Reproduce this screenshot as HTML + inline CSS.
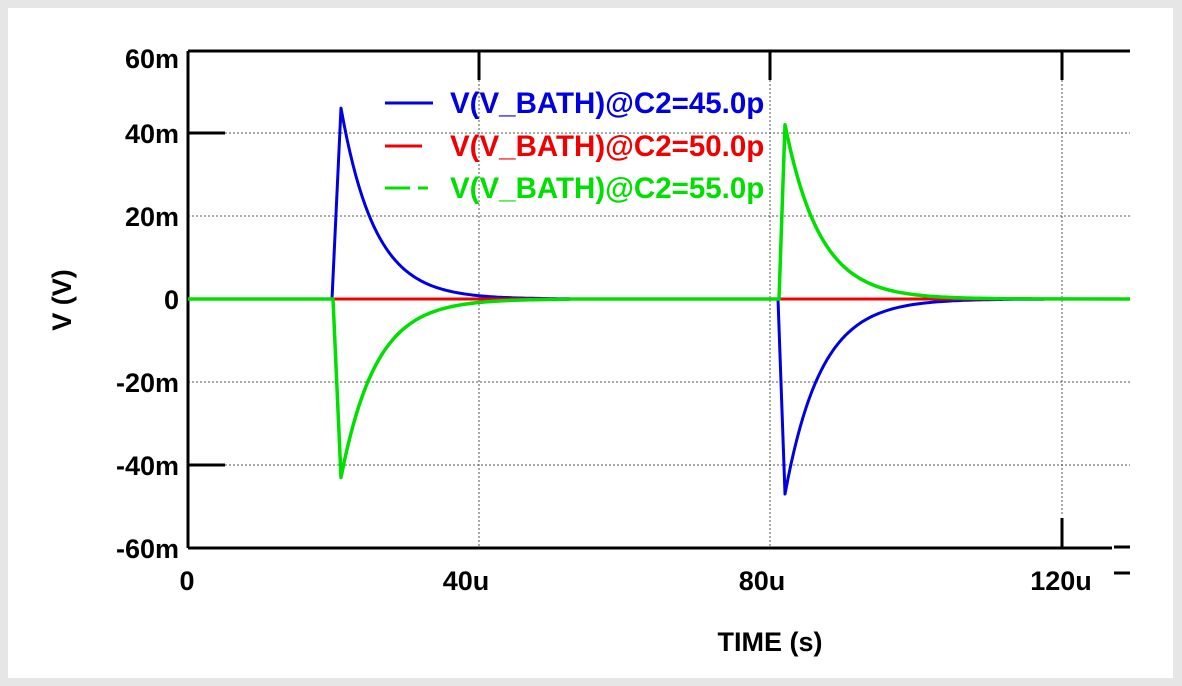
<!DOCTYPE html>
<html><head><meta charset="utf-8"><style>
html,body{margin:0;padding:0;}
body{width:1182px;height:686px;background:#e6e6e6;position:relative;overflow:hidden;}
#w{position:absolute;left:8px;top:8px;width:1165px;height:670px;background:#fff;}
svg{position:absolute;left:0;top:0;}
text{font-family:"Liberation Sans",Arial,sans-serif;font-weight:bold;}
</style></head><body><div id="w"></div>
<svg width="1182" height="686" xmlns="http://www.w3.org/2000/svg">
<g stroke="#555" stroke-width="1" stroke-dasharray="2,2">
<line x1="225" y1="133" x2="1130" y2="133"/>
<line x1="188" y1="216" x2="1130" y2="216"/>
<line x1="188" y1="382" x2="1130" y2="382"/>
<line x1="225" y1="465" x2="1130" y2="465"/>
<line x1="479" y1="80" x2="479" y2="548"/>
<line x1="770" y1="80" x2="770" y2="548"/>
<line x1="1062" y1="80" x2="1062" y2="515"/>
</g>
<g stroke="#000" stroke-width="3" fill="none">
<line x1="188" y1="51" x2="1130" y2="51"/>
<line x1="188" y1="51" x2="188" y2="548"/>
<line x1="188" y1="548" x2="1112" y2="548"/>
<line x1="1114" y1="547" x2="1130" y2="547"/>
<line x1="1114" y1="573" x2="1130" y2="573"/>
<line x1="188" y1="133" x2="225" y2="133"/>
<line x1="188" y1="465" x2="225" y2="465"/>
<line x1="479" y1="51" x2="479" y2="80"/>
<line x1="770" y1="51" x2="770" y2="80"/>
<line x1="1062" y1="51" x2="1062" y2="80"/>
<line x1="1062" y1="518" x2="1062" y2="548"/>
</g>
<g font-size="27" text-anchor="end" fill="#000">
<text x="179" y="68">60m</text><text x="179" y="143">40m</text><text x="179" y="226">20m</text>
<text x="179" y="309">0</text><text x="179" y="392">-20m</text><text x="179" y="475">-40m</text><text x="179" y="558">-60m</text>
</g>
<g font-size="27" text-anchor="middle" fill="#000">
<text x="187" y="590">0</text><text x="466" y="590">40u</text><text x="762" y="590">80u</text><text x="1061" y="590">120u</text>
<text x="770" y="651">TIME  (s)</text>
<text transform="translate(71,300) rotate(-90)">V  (V)</text>
</g>
<path id="blue" fill="none" stroke="#0000e0" stroke-width="3" stroke-linejoin="round"/>
<path id="red" fill="none" stroke="#f00000" stroke-width="3"/>
<path id="green" fill="none" stroke="#00e000" stroke-width="3.5" stroke-linejoin="round"/>
<g font-size="29.5">
<line x1="385" y1="103" x2="433" y2="103" stroke="#0000e0" stroke-width="3"/>
<text x="450" y="113" fill="#0000e0">V(V_BATH)@C2=45.0p</text>
<line x1="385" y1="146" x2="422" y2="146" stroke="#f00000" stroke-width="3"/>
<text x="450" y="156" fill="#f00000">V(V_BATH)@C2=50.0p</text>
<line x1="385" y1="188" x2="410" y2="188" stroke="#00e000" stroke-width="3"/>
<line x1="418" y1="188" x2="428" y2="188" stroke="#00e000" stroke-width="3"/>
<text x="450" y="198" fill="#00e000">V(V_BATH)@C2=55.0p</text>
</g>
</svg>
<script>
function Y(v){return 299-4.15*v;}
function pulse(x0,xp,peak,tau,xend){
 var s=[];s.push(x0+","+Y(0));s.push(xp+","+Y(peak));
 for(var x=xp+3;x<=xend;x+=3){s.push(x+","+Y(peak*Math.exp(-(x-xp)/tau)).toFixed(1));}
 return s;}
var b=["188,299"].concat(pulse(332,341,46,34,570)).concat(["570,299","777,299"]).concat(pulse(778,785,-47,36,1045)).concat(["1045,299"]);
var g=["188,299"].concat(pulse(333,341,-43,35,570)).concat(["570,299","778,299"]).concat(pulse(779,785,42,35,1045)).concat(["1130,299"]);
document.getElementById("blue").setAttribute("d","M"+b.join(" L"));
document.getElementById("green").setAttribute("d","M"+g.join(" L"));
document.getElementById("red").setAttribute("d","M188,299 L1045,299");
</script>
</body></html>
